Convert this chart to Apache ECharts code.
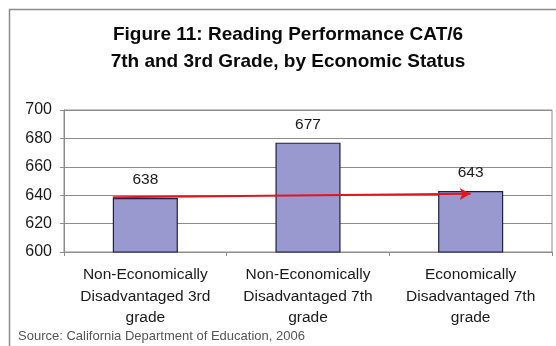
<!DOCTYPE html>
<html><head><meta charset="utf-8">
<script src="https://cdn.jsdelivr.net/npm/echarts@6/dist/echarts.min.js"></script>
<style>html,body{margin:0;padding:0;background:#fff}#c{width:556px;height:346px}</style>
</head><body><div id="c"></div>
<script>
var titleLines = ['Figure 11: Reading Performance CAT/6', '7th and 3rd Grade, by Economic Status'];
var categories = ['Non-Economically\nDisadvantaged 3rd\ngrade', 'Non-Economically\nDisadvantaged 7th\ngrade', 'Economically\nDisadvantaged 7th\ngrade'];
var scores = [638, 677, 643];
var yTicks = [600, 620, 640, 660, 680, 700];
var arrowStart = [-0.2, 638.5];
var arrowEnd = [2.0, 641];
var sourceText = 'Source: California Department of Education, 2006';

var FONT = '"Liberation Sans", Arial, sans-serif';
var chart = echarts.init(document.getElementById('c'), null, {renderer: 'canvas'});
chart.setOption({
  animation: false,
  backgroundColor: '#fff',
  graphic: [{
    type: 'rect', shape: {x: 9.5, y: 9.5, width: 560, height: 350},
    style: {fill: 'none', stroke: '#8a8a8a', lineWidth: 1.5}, silent: true, z: -1
  }],
  title: [{
    text: titleLines.join('\n'), left: 283, top: 16, textAlign: 'center',
    textStyle: {fontFamily: FONT, fontSize: 19, fontWeight: 'bold', color: '#0a0a0a', lineHeight: 27}
  }, {
    text: sourceText, left: 13, top: 325,
    textStyle: {fontFamily: FONT, fontSize: 13, fontWeight: 'normal', color: '#555'}
  }],
  grid: {left: 64, right: 4, top: 110, bottom: 94, show: true, borderColor: '#8c8c8c', borderWidth: 1},
  xAxis: [{
    type: 'category', data: categories, boundaryGap: true,
    axisLine: {lineStyle: {color: '#8c8c8c'}},
    axisTick: {show: true, length: 4, lineStyle: {color: '#8c8c8c'}},
    axisLabel: {fontFamily: FONT, fontSize: 15.5, color: '#1a1a1a', lineHeight: 21.5, margin: 12, interval: 0}
  }, {
    type: 'value', min: -0.5, max: 2.5, show: false
  }],
  yAxis: {
    type: 'value', min: yTicks[0], max: yTicks[yTicks.length - 1], interval: yTicks[1] - yTicks[0],
    axisLine: {show: true, onZero: false, lineStyle: {color: '#8c8c8c'}},
    axisTick: {show: true, length: 4, lineStyle: {color: '#8c8c8c'}},
    axisLabel: {fontFamily: FONT, fontSize: 16, color: '#1a1a1a', margin: 12},
    splitLine: {lineStyle: {color: '#8c8c8c', width: 1}}
  },
  series: [{
    type: 'bar', data: scores, barWidth: '40%', xAxisIndex: 0,
    itemStyle: {color: '#9999d0', borderColor: '#1e1e46', borderWidth: 1.2},
    label: {show: true, position: 'top', distance: 10, fontFamily: FONT, fontSize: 15.5, color: '#1a1a1a'},
    z: 2
  }, {
    type: 'line', xAxisIndex: 1, data: [arrowStart, arrowEnd],
    showSymbol: false, symbol: 'none', lineStyle: {opacity: 0}, silent: true, z: 5,
    markLine: {
      silent: true, symbol: ['none', 'arrow'], symbolSize: [9, 11],
      label: {show: false},
      lineStyle: {color: '#e4141e', width: 2, type: 'solid'},
      data: [[{coord: arrowStart}, {coord: arrowEnd}]]
    }
  }]
});
</script></body></html>
